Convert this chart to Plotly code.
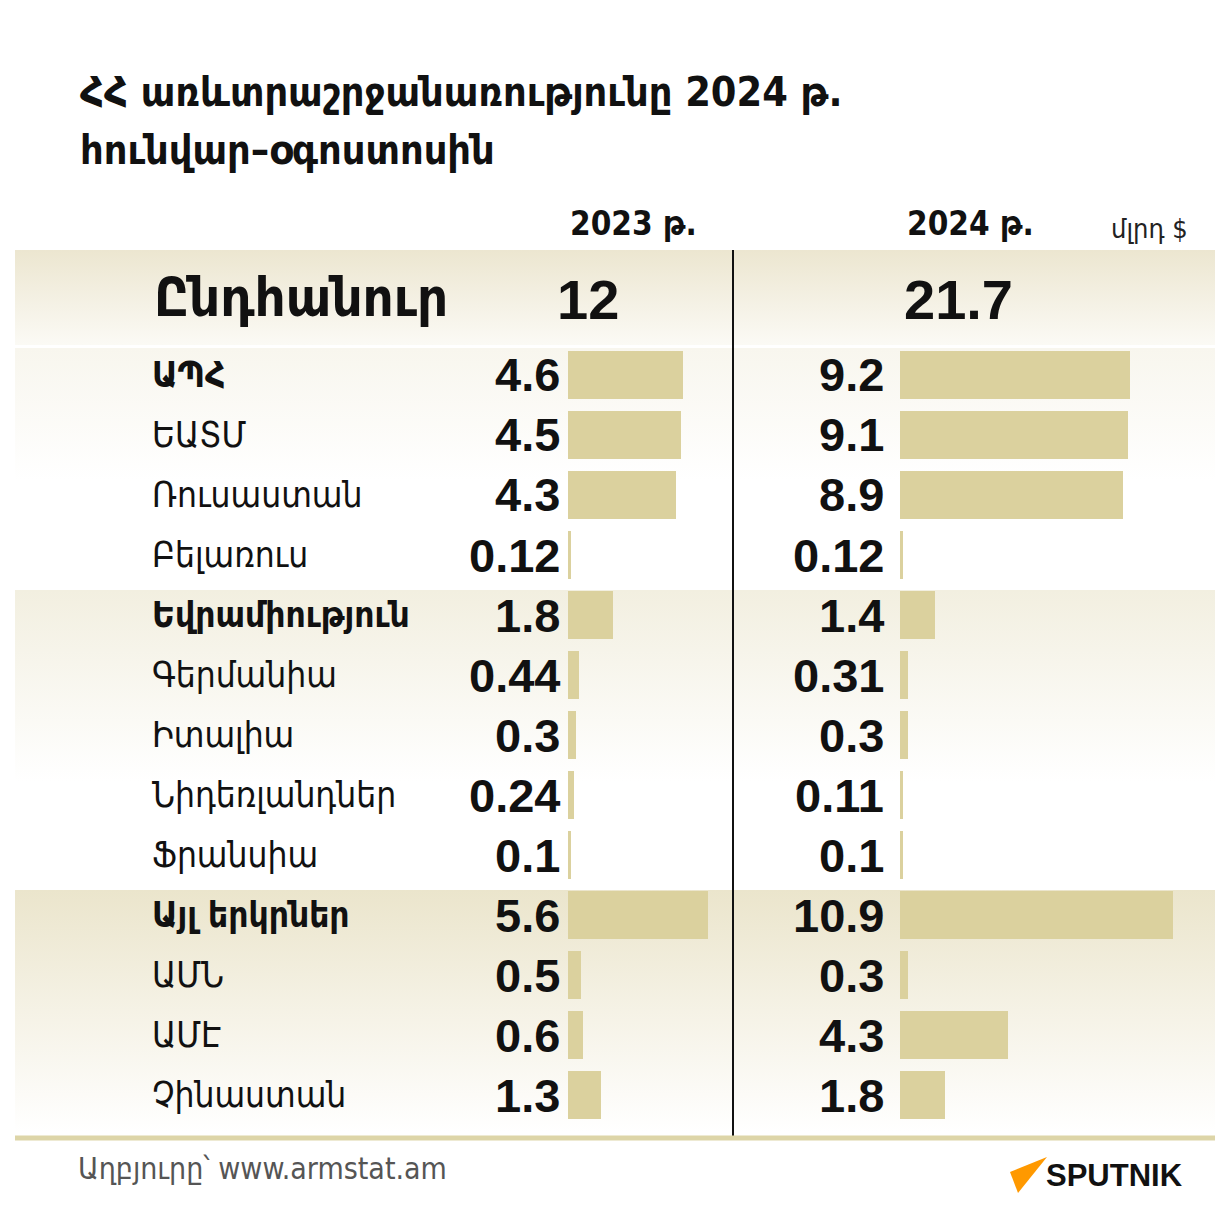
import plotly.graph_objects as go

# page body has an 8px margin: figure is sized/placed so that canvas coordinates equal page pixels
OFF = 8
W, H = 1230 - 2 * OFF, 1229 - 2 * OFF

title_lines = ["ՀՀ առևտրաշրջանառությունը 2024 թ.", "հունվար–օգոստոսին"]
year_headers = ["2023 թ.", "2024 թ."]
unit_label = "մլրդ $"
total_label = "Ընդհանուր"
total_values = [12, 21.7]

countries = ["ԱՊՀ", "ԵԱՏՄ", "Ռուսաստան", "Բելառուս", "Եվրամիություն",
             "Գերմանիա", "Իտալիա", "Նիդեռլանդներ", "Ֆրանսիա",
             "Այլ երկրներ", "ԱՄՆ", "ԱՄԷ", "Չինաստան"]
values_2023 = [4.6, 4.5, 4.3, 0.12, 1.8, 0.44, 0.3, 0.24, 0.1, 5.6, 0.5, 0.6, 1.3]
values_2024 = [9.2, 9.1, 8.9, 0.12, 1.4, 0.31, 0.3, 0.11, 0.1, 10.9, 0.3, 4.3, 1.8]
group_heads = ["ԱՊՀ", "Եվրամիություն", "Այլ երկրներ"]
source_text = "Աղբյուրը՝ www.armstat.am"
brand = "SPUTNIK"

ARM = "DejaVu Sans Condensed, DejaVu Sans, sans-serif"
NUM = "Liberation Sans, Arial, sans-serif"
BAR = "#dbd19e"

def py(p):  # page pixel-from-top -> paper fraction
    return 1 - (p - OFF) / H

def px(p):  # page pixel-from-left -> paper fraction
    return (p - OFF) / W

rows = list(range(len(countries)))
row_top_px, row_h = 345, 60
ydom = [py(row_top_px + row_h * len(countries)), py(row_top_px)]
yrange = [len(countries) - 0.5, -0.5]

fig = go.Figure()

# background gradient bands (canvas axes in page pixels)
bands = [
    (250, 345, [[0, "#ece6d0"], [1, "#fbfaf5"]]),
    (348, 590, [[0, "#f8f6ee"], [0.55, "#ffffff"], [1, "#ffffff"]]),
    (590, 830, [[0, "#f2efe0"], [0.8, "#ffffff"], [1, "#ffffff"]]),
    (890, 1132, [[0, "#ebe5cc"], [1, "#ffffff"]]),
]
for y0, y1, cs in bands:
    fig.add_trace(go.Scatter(
        x=[15, 1215, 1215, 15, 15], y=[y0, y0, y1, y1, y0],
        mode="lines", line=dict(width=0), fill="toself",
        fillgradient=dict(type="vertical", colorscale=cs, start=y0, stop=y1),
        hoverinfo="skip", showlegend=False, xaxis="x", yaxis="y"))

# Sputnik logo wedge
fig.add_trace(go.Scatter(
    x=[1047, 1010, 1018, 1047], y=[1157, 1172, 1193, 1157],
    mode="lines", line=dict(width=0), fill="toself", fillcolor="#ff9900",
    hoverinfo="skip", showlegend=False, xaxis="x", yaxis="y"))

# bars
fig.add_trace(go.Bar(x=values_2023, y=rows, orientation="h", width=0.8,
                     marker=dict(color=BAR, line=dict(width=0)),
                     xaxis="x2", yaxis="y2", hoverinfo="skip", showlegend=False))
fig.add_trace(go.Bar(x=values_2024, y=rows, orientation="h", width=0.8,
                     marker=dict(color=BAR, line=dict(width=0)),
                     xaxis="x3", yaxis="y3", hoverinfo="skip", showlegend=False))

ann = []
# title
for i, t in enumerate(title_lines):
    ann.append(dict(x=78, y=92 + 58 * i, xref="x", yref="y", text=t, showarrow=False,
                    xanchor="left", yanchor="middle",
                    font=dict(family=ARM, size=41, color="#111111", weight="bold")))
# headers
for t, xp in zip(year_headers, [568, 905]):
    ann.append(dict(x=xp, y=223, xref="x", yref="y", text=t, showarrow=False,
                    xanchor="left", yanchor="middle",
                    font=dict(family=ARM, size=33, color="#111111", weight="bold")))
ann.append(dict(x=1109, y=228, xref="x", yref="y", text=unit_label, showarrow=False,
                xanchor="left", yanchor="middle",
                font=dict(family=ARM, size=27, color="#222222")))
# total row
ann.append(dict(x=152, y=297, xref="x", yref="y", text=total_label, showarrow=False,
                xanchor="left", yanchor="middle",
                font=dict(family=ARM, size=54, color="#111111", weight="bold")))
ann.append(dict(x=588, y=299, xref="x", yref="y", text=f"{total_values[0]:g}", showarrow=False,
                xanchor="center", yanchor="middle",
                font=dict(family=NUM, size=56, color="#111111", weight="bold")))
ann.append(dict(x=902, y=299, xref="x", yref="y", text=f"{total_values[1]:g}", showarrow=False,
                xanchor="left", yanchor="middle",
                font=dict(family=NUM, size=56, color="#111111", weight="bold")))

# row labels and values
for i, c in enumerate(countries):
    bold = c in group_heads
    ann.append(dict(x=px(150), y=i, xref="paper", yref="y2", text=c, showarrow=False,
                    xanchor="left", yanchor="middle",
                    font=dict(family=ARM, size=35, color="#111111",
                              weight="bold" if bold else "normal")))
    ann.append(dict(x=0, y=i, xref="x2", yref="y2", text=f"{values_2023[i]:g}",
                    showarrow=False, xanchor="right", yanchor="middle", xshift=-6,
                    font=dict(family=NUM, size=47, color="#111111", weight="bold")))
    ann.append(dict(x=0, y=i, xref="x3", yref="y3", text=f"{values_2024[i]:g}",
                    showarrow=False, xanchor="right", yanchor="middle", xshift=-14,
                    font=dict(family=NUM, size=47, color="#111111", weight="bold")))

# footer
ann.append(dict(x=76, y=1168, xref="x", yref="y", text=source_text, showarrow=False,
                xanchor="left", yanchor="middle",
                font=dict(family=ARM, size=30, color="#555555")))
ann.append(dict(x=1044, y=1175, xref="x", yref="y", text=brand, showarrow=False,
                xanchor="left", yanchor="middle",
                font=dict(family=NUM, size=31, color="#111111", weight="bold")))

shapes = [
    dict(type="line", xref="x", yref="y", x0=733, x1=733, y0=250, y1=1136,
         line=dict(color="#111111", width=2)),
    dict(type="line", xref="x", yref="y", x0=15, x1=1215, y0=1138, y1=1138,
         line=dict(color="#ddd5a8", width=5)),
]

hidden = dict(visible=False, fixedrange=True, showgrid=False, zeroline=False)
fig.update_layout(
    width=W, height=H, margin=dict(l=0, r=0, t=0, b=0),
    paper_bgcolor="white", plot_bgcolor="rgba(0,0,0,0)",
    showlegend=False, annotations=ann, shapes=shapes, bargap=0,
    xaxis=dict(range=[OFF, OFF + W], domain=[0, 1], **hidden),
    yaxis=dict(range=[OFF + H, OFF], domain=[0, 1], **hidden),
    xaxis2=dict(range=[0, 6], domain=[px(568), px(718)], anchor="y2", **hidden),
    yaxis2=dict(range=yrange, domain=ydom, anchor="x2", **hidden),
    xaxis3=dict(range=[0, 12], domain=[px(900), px(1200)], anchor="y3", **hidden),
    yaxis3=dict(range=yrange, domain=ydom, anchor="x3", **hidden),
)

fig.write_html("out.html")
